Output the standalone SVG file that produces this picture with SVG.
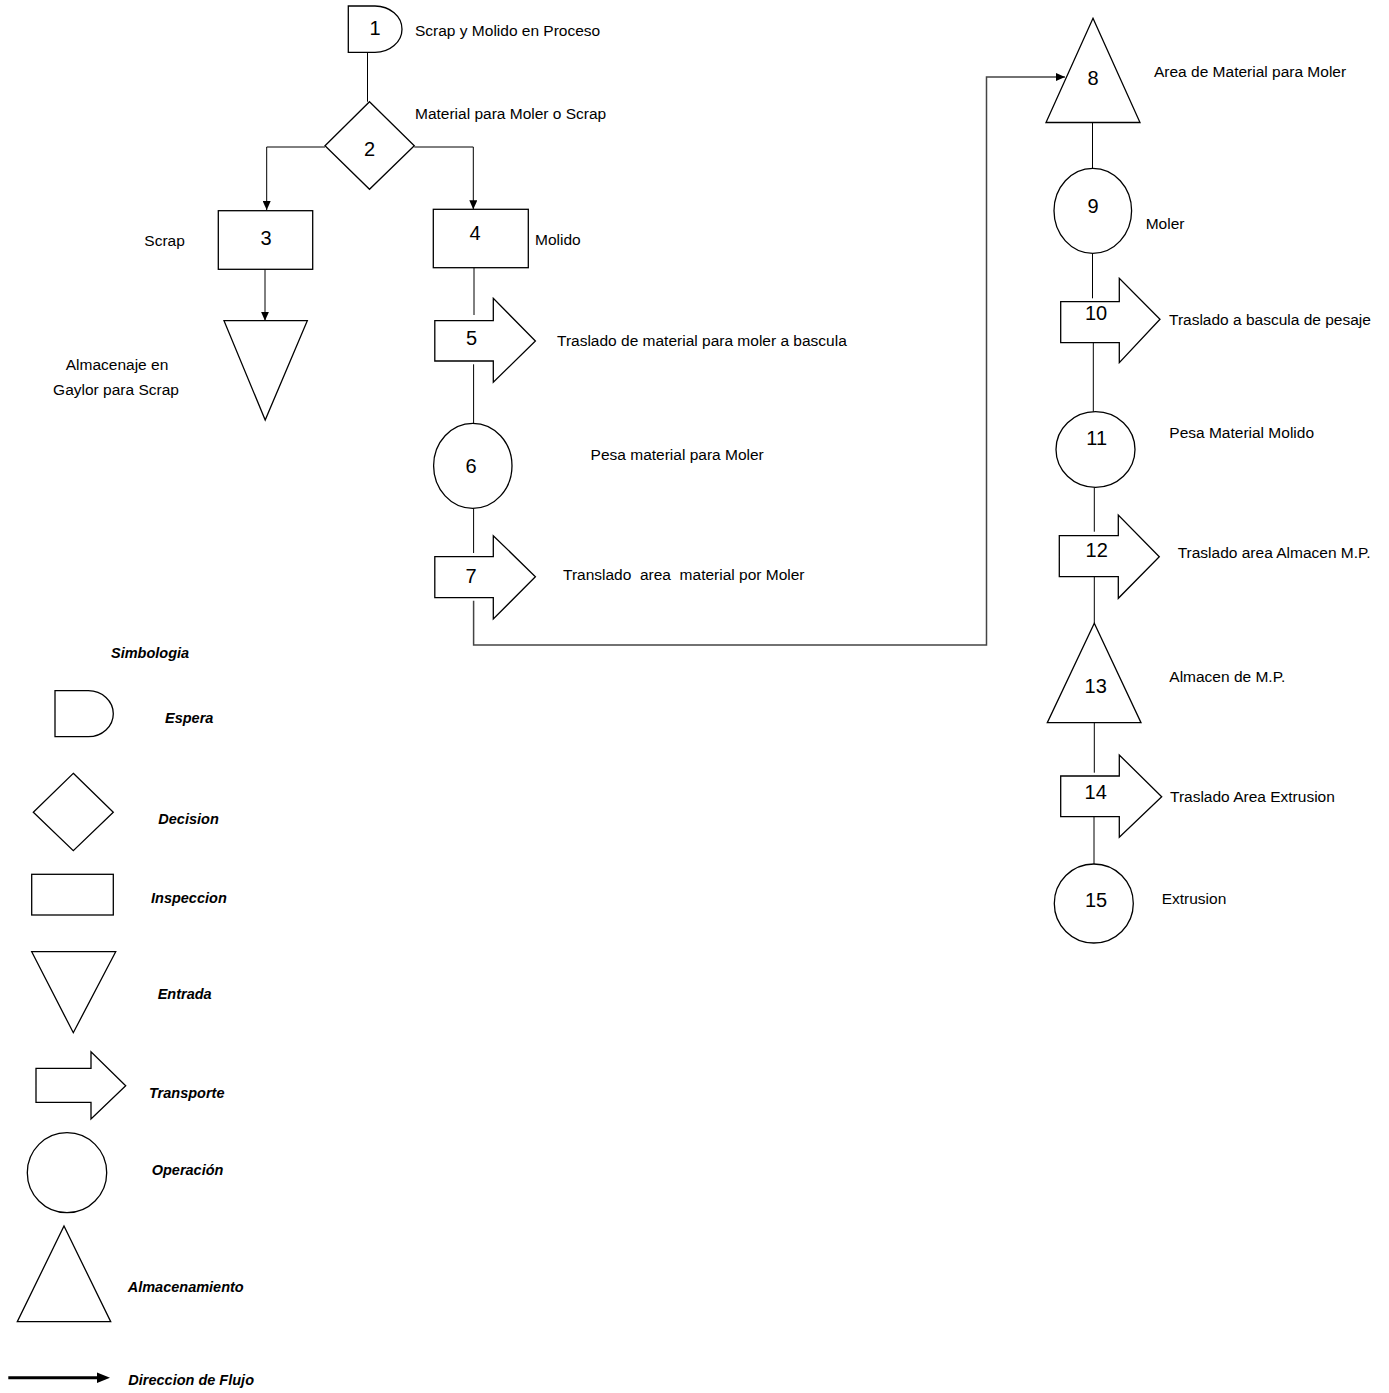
<svg xmlns="http://www.w3.org/2000/svg" width="1389" height="1393" viewBox="0 0 1389 1393">
<style>
.shape{fill:#fff;stroke:#000;stroke-width:1.3}
.conn{fill:none;stroke:#000;stroke-width:1}
.long{fill:none;stroke:#444;stroke-width:1.5}
.num{font-family:"Liberation Sans",Arial,sans-serif;font-size:20px;fill:#000;text-anchor:middle}
.lbl{font-family:"Liberation Sans",Arial,sans-serif;font-size:15.5px;fill:#000;white-space:pre}
.leg{font-family:"Liberation Sans",Arial,sans-serif;font-size:14.5px;font-weight:bold;font-style:italic;fill:#000}
</style>
<defs>
<marker id="ah" markerUnits="userSpaceOnUse" markerWidth="9" markerHeight="8" refX="9" refY="4" orient="auto">
<path d="M0,0 L9,4 L0,8 Z" fill="#000"/>
</marker>
</defs>
<rect width="1389" height="1393" fill="#fff"/>
<g id="connectors">
<line class="conn" x1="367.5" y1="52.3" x2="367.5" y2="101.7"/>
<polyline class="conn" points="325,147 266.7,147 266.7,210" marker-end="url(#ah)"/>
<polyline class="conn" points="414.3,147 473.3,147 473.3,209.3" marker-end="url(#ah)"/>
<line class="conn" x1="265" y1="269.3" x2="265" y2="320.7" marker-end="url(#ah)"/>
<line class="conn" x1="474" y1="267.7" x2="474" y2="315"/>
<line class="conn" x1="473.6" y1="364.3" x2="473.6" y2="423.3"/>
<line class="conn" x1="473.6" y1="508.3" x2="473.6" y2="553"/>
<polyline class="long" points="473.6,600.7 473.6,645 986.5,645 986.5,77 1065,77" marker-end="url(#ah)"/>
<line class="conn" x1="1092.5" y1="122.5" x2="1092.5" y2="168.3"/>
<line class="conn" x1="1092.5" y1="253.3" x2="1092.5" y2="298.3"/>
<line class="conn" x1="1093.3" y1="340" x2="1093.3" y2="411.7"/>
<line class="conn" x1="1094.3" y1="487.3" x2="1094.3" y2="531.7"/>
<line class="conn" x1="1094.3" y1="576" x2="1094.3" y2="623.3"/>
<line class="conn" x1="1094.3" y1="722.7" x2="1094.3" y2="772.7"/>
<line class="conn" x1="1094" y1="815" x2="1094" y2="864"/>
</g>
<g id="node1">
<path class="shape" d="M348.3,6 H375 A27,23.15 0 0 1 375,52.3 H348.3 Z"/>
<text class="num" x="375" y="35">1</text>
<text class="lbl" x="415" y="36">Scrap y Molido en Proceso</text>
</g>
<g id="node2">
<path class="shape" d="M369.5,101.7 L414.3,145.7 L369.5,189.3 L325,145.7 Z"/>
<text class="num" x="369.5" y="156">2</text>
<text class="lbl" x="415" y="119">Material para Moler o Scrap</text>
</g>
<g id="node3">
<rect class="shape" x="218.3" y="210.7" width="94.4" height="58.6"/>
<text class="num" x="266" y="245">3</text>
<text class="lbl" x="144.3" y="246">Scrap</text>
</g>
<g id="node4">
<rect class="shape" x="433.3" y="209.3" width="95" height="58.4"/>
<text class="num" x="475" y="240">4</text>
<text class="lbl" x="535" y="245">Molido</text>
</g>
<g id="entrada">
<path class="shape" d="M224,320.7 L307.3,320.7 L265.2,420 Z"/>
<text class="lbl" x="117" y="370" text-anchor="middle">Almacenaje en</text>
<text class="lbl" x="116" y="395" text-anchor="middle">Gaylor para Scrap</text>
</g>
<g id="node5">
<path class="shape" d="M434.8,320.7 H493.3 V298.3 L535.4,341 L493.3,382.3 V361 H434.8 Z"/>
<text class="num" x="471.5" y="345">5</text>
<text class="lbl" x="557" y="346">Traslado de material para moler a bascula</text>
</g>
<g id="node6">
<ellipse class="shape" cx="472.8" cy="465.8" rx="39.2" ry="42.5"/>
<text class="num" x="471" y="472.7">6</text>
<text class="lbl" x="590.6" y="460">Pesa material para Moler</text>
</g>
<g id="node7">
<path class="shape" d="M434.8,556.7 H493.3 V535.7 L535.4,576.7 L493.3,619 V597.7 H434.8 Z"/>
<text class="num" x="471" y="582.7">7</text>
<text class="lbl" x="563" y="580" xml:space="preserve">Translado  area  material por Moler</text>
</g>
<g id="node8">
<path class="shape" d="M1093,18.3 L1140,122.5 L1046,122.5 Z"/>
<text class="num" x="1093" y="85">8</text>
<text class="lbl" x="1154" y="77">Area de Material para Moler</text>
</g>
<g id="node9">
<ellipse class="shape" cx="1092.8" cy="210.8" rx="38.8" ry="42.5"/>
<text class="num" x="1093" y="212.7">9</text>
<text class="lbl" x="1145.7" y="229">Moler</text>
</g>
<g id="node10">
<path class="shape" d="M1060.7,301.7 H1119.3 V278.3 L1160,319.3 L1119.3,362.7 V342.7 H1060.7 Z"/>
<text class="num" x="1096" y="320">10</text>
<text class="lbl" x="1169" y="325">Traslado a bascula de pesaje</text>
</g>
<g id="node11">
<ellipse class="shape" cx="1095.5" cy="449.5" rx="39.5" ry="37.8"/>
<text class="num" x="1096.7" y="445">11</text>
<text class="lbl" x="1169.3" y="438">Pesa Material Molido</text>
</g>
<g id="node12">
<path class="shape" d="M1059.3,535.7 H1118.3 V515 L1159.3,556.7 L1118.3,598.3 V576.7 H1059.3 Z"/>
<text class="num" x="1096.7" y="557.3">12</text>
<text class="lbl" x="1177.7" y="558">Traslado area Almacen M.P.</text>
</g>
<g id="node13">
<path class="shape" d="M1094.3,623.3 L1141,722.7 L1047.3,722.7 Z"/>
<text class="num" x="1095.7" y="693">13</text>
<text class="lbl" x="1169.3" y="682">Almacen de M.P.</text>
</g>
<g id="node14">
<path class="shape" d="M1060.7,776 H1119.3 V755 L1161.7,796.7 L1119.3,837.3 V816.7 H1060.7 Z"/>
<text class="num" x="1095.7" y="799">14</text>
<text class="lbl" x="1170" y="802">Traslado Area Extrusion</text>
</g>
<g id="node15">
<ellipse class="shape" cx="1093.8" cy="903.5" rx="39.5" ry="39.5"/>
<text class="num" x="1096" y="906.7">15</text>
<text class="lbl" x="1161.7" y="904">Extrusion</text>
</g>
<g id="legend">
<text class="leg" x="111" y="658">Simbologia</text>
<path class="shape" d="M55,690.7 H88.3 A25,23 0 0 1 88.3,736.7 H55 Z"/>
<text class="leg" x="165" y="723">Espera</text>
<path class="shape" d="M73.3,773.3 L113.3,812.3 L73.3,850.7 L33.3,812.3 Z"/>
<text class="leg" x="158.3" y="824">Decision</text>
<rect class="shape" x="31.7" y="874.3" width="81.6" height="40.7"/>
<text class="leg" x="151" y="903.3">Inspeccion</text>
<path class="shape" d="M31.7,951.7 L115.7,951.7 L73.3,1032.7 Z"/>
<text class="leg" x="157.7" y="999.3">Entrada</text>
<path class="shape" d="M36,1068.3 H91 V1051.7 L125.7,1085.7 L91,1119 V1102.3 H36 Z"/>
<text class="leg" x="149" y="1098.3">Transporte</text>
<ellipse class="shape" cx="67" cy="1172.7" rx="39.7" ry="40"/>
<text class="leg" x="151.7" y="1175">Operación</text>
<path class="shape" d="M64,1226 L110.7,1321.7 L17.3,1321.7 Z"/>
<text class="leg" x="127.7" y="1292">Almacenamiento</text>
<line x1="8.3" y1="1377.7" x2="99" y2="1377.7" stroke="#000" stroke-width="3"/>
<path d="M97,1372.5 L110,1377.7 L97,1382.9 Z" fill="#000"/>
<text class="leg" x="128.3" y="1385">Direccion de Flujo</text>
</g>
</svg>
